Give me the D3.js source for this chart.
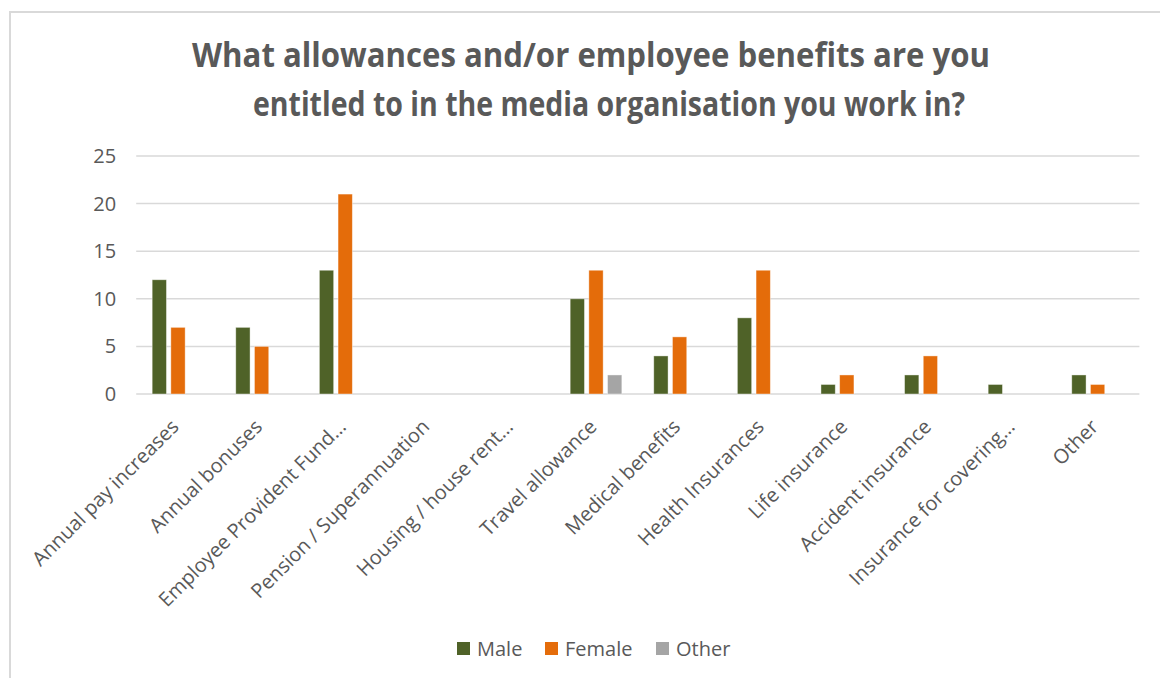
<!DOCTYPE html>
<html>
<head>
<meta charset="utf-8">
<script src="https://cdn.jsdelivr.net/npm/d3@7"></script>
<style>
  html, body { margin: 0; padding: 0; background: #fff; }
  svg { display: block; }
</style>
</head>
<body>
<svg id="chart" width="1160" height="678"></svg>
<script>
const categories = [
  "Annual pay increases", "Annual bonuses", "Employee Provident Fund…",
  "Pension / Superannuation", "Housing / house rent…", "Travel allowance",
  "Medical benefits", "Health Insurances", "Life insurance",
  "Accident insurance", "Insurance for covering…", "Other"
];
const seriesNames = ["Male", "Female", "Other"];
const maleValues   = [12, 7, 13, 0, 0, 10, 4, 8, 1, 2, 1, 2];
const femaleValues = [7, 5, 21, 0, 0, 13, 6, 13, 2, 4, 0, 1];
const otherValues  = [0, 0, 0, 0, 0, 2, 0, 0, 0, 0, 0, 0];
const yTicks = [0, 5, 10, 15, 20, 25];
const titleLines = [
  "What allowances and/or employee benefits are you",
  "entitled to in the media organisation you work in?"
];

const colors = { "Male": "#4F6228", "Female": "#E46C0A", "Other": "#A5A5A5" };
const textColor = "#595959";
const gridColor = "#D9D9D9";
const font = "'Open Sans', sans-serif";

const svg = d3.select("#chart");

// Chart outer border (clipped at right/bottom)
svg.append("path")
  .attr("d", "M10,678 L10,12 L1160,12")
  .attr("fill", "none")
  .attr("stroke", gridColor)
  .attr("stroke-width", 2);

// Title
const titleG = svg.append("g");
const titleX = [591, 609];
const titleY = [67, 116];
const titleW = [798, 712];
titleLines.forEach((t, i) => {
  titleG.append("text")
    .attr("x", titleX[i])
    .attr("y", titleY[i])
    .attr("text-anchor", "middle")
    .attr("font-family", font)
    .attr("font-weight", "bold")
    .attr("font-size", 34)
    .attr("fill", textColor)
    .attr("textLength", titleW[i])
    .attr("lengthAdjust", "spacingAndGlyphs")
    .text(t);
});

// Scales
const plotLeft = 136.2, plotRight = 1139.4;
const x0 = d3.scaleBand()
  .domain(categories)
  .range([plotLeft, plotRight])
  .paddingInner(0.382)
  .paddingOuter(0.191);
const x1 = d3.scaleBand()
  .domain(seriesNames)
  .range([0, x0.bandwidth()])
  .paddingInner(0.235);
const y = d3.scaleLinear().domain([0, 25]).range([394, 156]);

// Gridlines
svg.append("g")
  .selectAll("line")
  .data(yTicks)
  .join("line")
  .attr("x1", plotLeft)
  .attr("x2", plotRight)
  .attr("y1", d => y(d))
  .attr("y2", d => y(d))
  .attr("stroke", gridColor)
  .attr("stroke-width", 1.5);

// Y axis labels
const yAxis = d3.axisLeft(y).tickValues(yTicks).tickSize(0).tickPadding(0);
const yG = svg.append("g")
  .attr("transform", `translate(${plotLeft - 20},0)`)
  .call(yAxis);
yG.select(".domain").remove();
yG.selectAll("text")
  .attr("font-family", font)
  .attr("font-size", 20)
  .attr("fill", textColor);

// Bars
const seriesData = {
  "Male": maleValues,
  "Female": femaleValues,
  "Other": otherValues
};
const barsG = svg.append("g");
seriesNames.forEach(s => {
  barsG.append("g")
    .selectAll("rect")
    .data(categories.map((c, i) => ({ c, v: seriesData[s][i] })))
    .join("rect")
    .filter(d => d.v > 0)
    .attr("x", d => x0(d.c) + x1(s))
    .attr("y", d => y(d.v))
    .attr("width", x1.bandwidth())
    .attr("height", d => y(0) - y(d.v))
    .attr("fill", colors[s])
    .attr("stroke", "#ffffff")
    .attr("stroke-opacity", 0.5)
    .attr("stroke-width", 0.8);
});

// X axis labels (rotated)
const xG = svg.append("g");
categories.forEach(c => {
  const cx = x0(c) + x0.bandwidth() / 2;
  xG.append("text")
    .attr("transform", `translate(${cx - 3},${423}) rotate(-45)`)
    .attr("text-anchor", "end")
    .attr("dy", "0.35em")
    .attr("font-family", font)
    .attr("font-size", 20)
    .attr("fill", textColor)
    .text(c);
});

// Legend
const legendItems = [
  { name: "Male", sx: 457, tx: 477 },
  { name: "Female", sx: 545, tx: 565 },
  { name: "Other", sx: 656, tx: 676 }
];
const legG = svg.append("g");
legendItems.forEach(item => {
  legG.append("rect")
    .attr("x", item.sx)
    .attr("y", 642)
    .attr("width", 13)
    .attr("height", 13)
    .attr("fill", colors[item.name]);
  legG.append("text")
    .attr("x", item.tx)
    .attr("y", 656)
    .attr("font-family", font)
    .attr("font-size", 20)
    .attr("fill", textColor)
    .text(item.name);
});
</script>
</body>
</html>
